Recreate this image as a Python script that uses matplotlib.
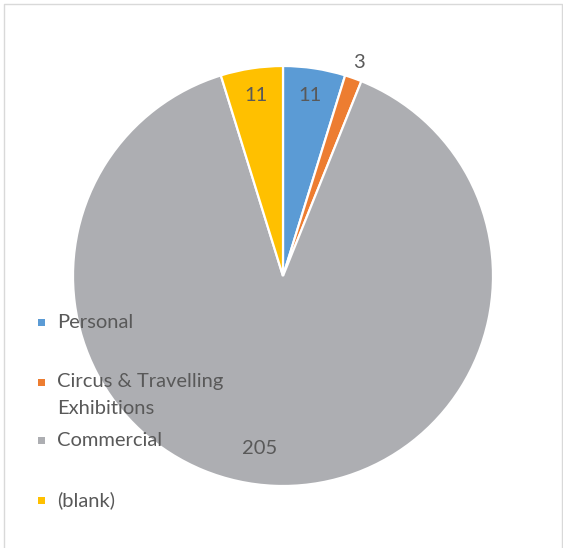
import numpy as np
import matplotlib.pyplot as plt
from matplotlib.patches import Rectangle

# data
categories = ['Personal', 'Circus & Travelling\nExhibitions', 'Commercial', '(blank)']
values = [11, 3, 205, 11]
colors = ['#5B9BD5', '#ED7D31', '#ADAEB2', '#FFC000']

# label placement (fraction of radius, angle nudge in degrees), excel "best fit" style
label_dist = [0.87, 1.08, 0.83, 0.87]
label_nudge = [0, 0, -5.5, 0]

W, H = 563, 548
plt.rcParams['font.family'] = ['Lato', 'DejaVu Sans']
txt_color = '#595959'
fs = 14.5

fig = plt.figure(figsize=(W / 100, H / 100), dpi=100)
ax = fig.add_axes([0, 0, 1, 1])

cx, cy, r = 283, H - 276, 210
wedges, _ = ax.pie(values, colors=colors, startangle=90, counterclock=False,
                   center=(cx, cy), radius=r, frame=True,
                   wedgeprops=dict(edgecolor='white', linewidth=1.6))
ax.set_xlim(0, W)
ax.set_ylim(0, H)
ax.axis('off')

# data labels at wedge mid angles
for w, v, d, n in zip(wedges, values, label_dist, label_nudge):
    ang = np.deg2rad((w.theta1 + w.theta2) / 2 + n)
    ax.text(cx + d * r * np.cos(ang), cy + d * r * np.sin(ang), str(v),
            ha='center', va='center', fontsize=fs, color=txt_color)

# legend, overlaid on the left like the original
leg_y = [322, 382, 440, 500]
for lab, col, y in zip(categories, colors, leg_y):
    ax.add_patch(Rectangle((38, H - y - 3.5), 7, 7, color=col, lw=0))
    for i, ln in enumerate(lab.split('\n')):
        ax.text(57, H - y - i * 26, ln, ha='left', va='center',
                fontsize=fs, color=txt_color)

# chart frame
ax.plot([3.5, 3.5, 561.5, 561.5], [0, H - 3.5, H - 3.5, 0], color='#D9D9D9',
        lw=1.0, clip_on=False)

fig.savefig('out.png', dpi=100)
